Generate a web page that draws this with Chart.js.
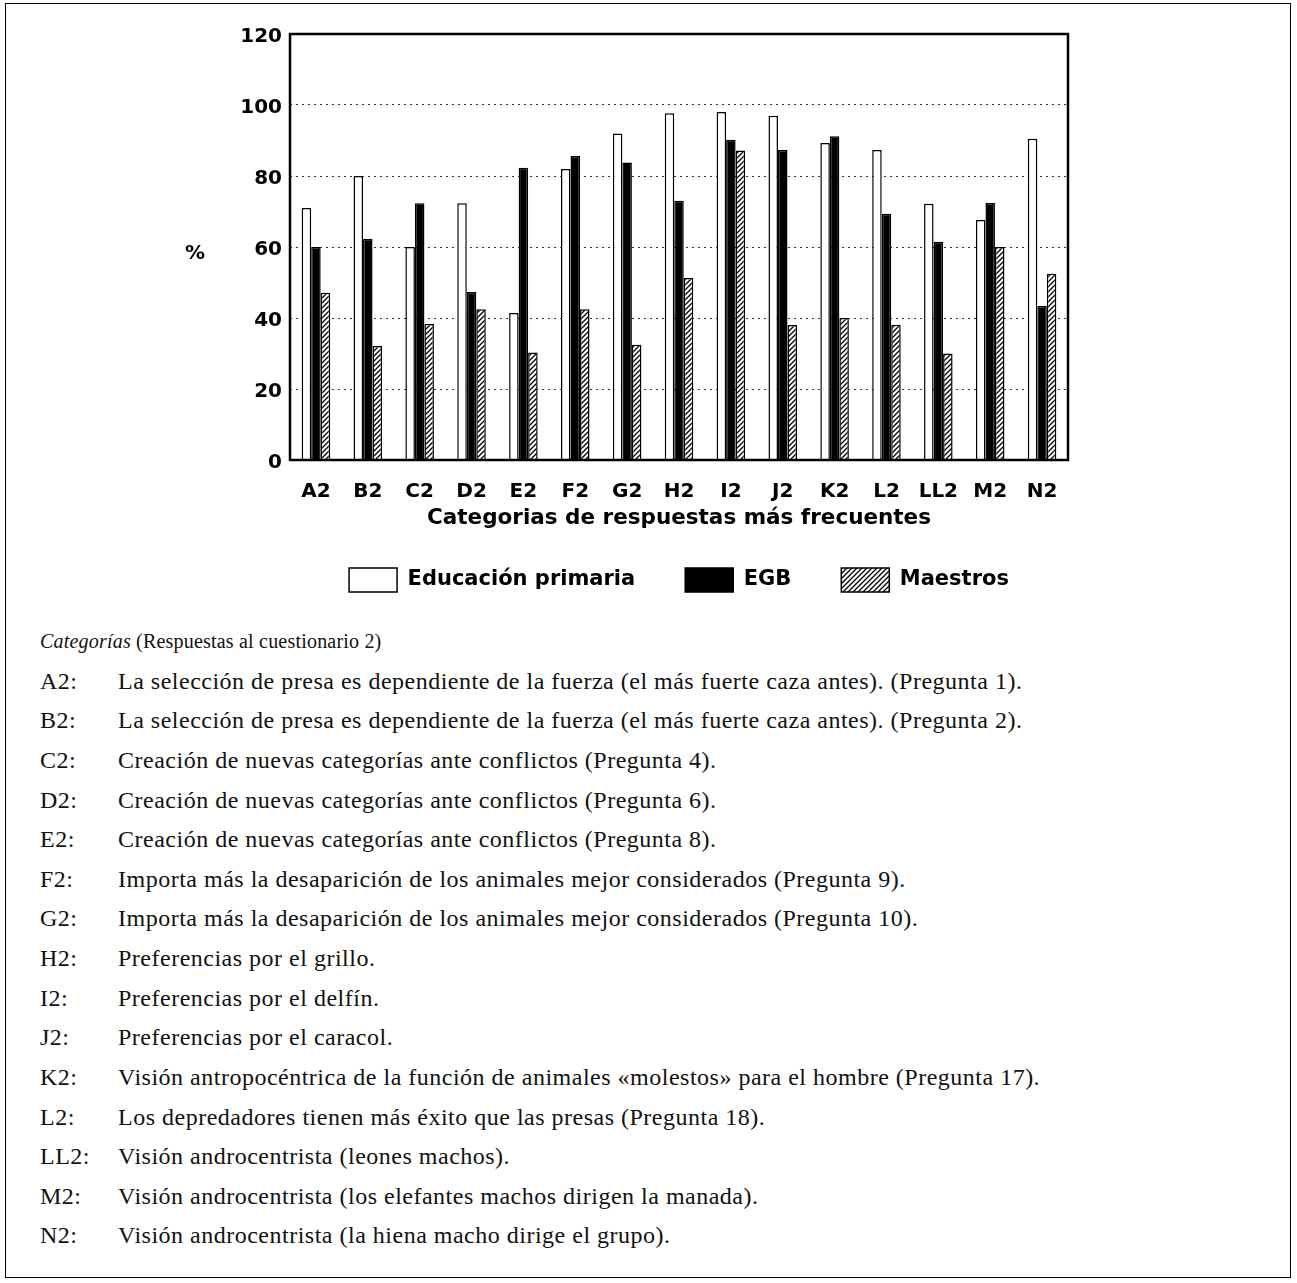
<!DOCTYPE html>
<html><head><meta charset="utf-8">
<script src="https://cdn.jsdelivr.net/npm/chart.js@4.4.0/dist/chart.umd.min.js"></script>
<style>
html,body{margin:0;padding:0;background:#fff;width:1297px;height:1283px;overflow:hidden;}
#frame{position:absolute;left:5px;top:3px;width:1286px;height:1275px;border:1.5px solid #000;box-sizing:border-box;}
#wrap{position:absolute;left:0;top:0;width:1297px;height:620px;}
#pct{position:absolute;left:185px;top:240px;font:bold 20px "DejaVu Sans";color:#000;}
#notes{position:absolute;left:40px;top:622px;font-family:"Liberation Serif";font-size:24px;line-height:39.64px;color:#111;letter-spacing:0.5px;}
.row{white-space:nowrap;height:39.64px;}
.row.first{font-size:20px;letter-spacing:0.2px;}
.k{display:inline-block;width:78px;}
</style></head>
<body>
<div id="frame"></div>
<div id="wrap"><canvas id="c" width="1297" height="620"></canvas></div>
<div id="pct">%</div>
<div id="notes"></div>
<script>
// ---- data ----
const categories = ['A2','B2','C2','D2','E2','F2','G2','H2','I2','J2','K2','L2','LL2','M2','N2'];
const primaria = [71, 80, 60, 72.3, 41.4, 82, 92, 97.7, 98, 97, 89.3, 87.3, 72.2, 67.6, 90.5];
const egb      = [60, 62.3, 72.3, 47.3, 82.3, 85.6, 83.8, 73, 90.2, 87.3, 91.2, 69.4, 61.5, 72.4, 43.4];
const maestros = [47.1, 32.1, 38.3, 42.5, 30.3, 42.5, 32.5, 51.3, 87.2, 38, 40, 38.1, 30, 60, 52.5];
const seriesNames = ['Educación primaria','EGB','Maestros'];
const yMin = 0, yMax = 120, yStep = 20;
const xTitle = 'Categorias de respuestas más frecuentes';
const yTitle = '%';
const notesTitleItalic = 'Categorías';
const notesTitleRest = ' (Respuestas al cuestionario 2)';
const noteCodes = ['A2:','B2:','C2:','D2:','E2:','F2:','G2:','H2:','I2:','J2:','K2:','L2:','LL2:','M2:','N2:'];
const noteTexts = [
 'La selección de presa es dependiente de la fuerza (el más fuerte caza antes). (Pregunta 1).',
 'La selección de presa es dependiente de la fuerza (el más fuerte caza antes). (Pregunta 2).',
 'Creación de nuevas categorías ante conflictos (Pregunta 4).',
 'Creación de nuevas categorías ante conflictos (Pregunta 6).',
 'Creación de nuevas categorías ante conflictos (Pregunta 8).',
 'Importa más la desaparición de los animales mejor considerados (Pregunta 9).',
 'Importa más la desaparición de los animales mejor considerados (Pregunta 10).',
 'Preferencias por el grillo.',
 'Preferencias por el delfín.',
 'Preferencias por el caracol.',
 'Visión antropocéntrica de la función de animales «molestos» para el hombre (Pregunta 17).',
 'Los depredadores tienen más éxito que las presas (Pregunta 18).',
 'Visión androcentrista (leones machos).',
 'Visión androcentrista (los elefantes machos dirigen la manada).',
 'Visión androcentrista (la hiena macho dirige el grupo).'
];

// ---- notes text ----
document.getElementById('pct').textContent = yTitle;
const notes = document.getElementById('notes');
let h = '<div class="row first"><i>' + notesTitleItalic + '</i>' + notesTitleRest + '</div>';
noteCodes.forEach((c,i)=>{ h += '<div class="row"><span class="k">'+c+'</span>'+noteTexts[i]+'</div>'; });
notes.innerHTML = h;

// ---- hatch pattern ----
function hatch(){
  const s = 5, c = document.createElement('canvas'); c.width = s; c.height = s;
  const x = c.getContext('2d');
  x.fillStyle = '#fff'; x.fillRect(0,0,s,s);
  x.strokeStyle = '#000'; x.lineWidth = 1.3;
  x.beginPath();
  x.moveTo(0,s); x.lineTo(s,0);
  x.moveTo(-1,1); x.lineTo(1,-1);
  x.moveTo(s-1,s+1); x.lineTo(s+1,s-1);
  x.stroke();
  return x.createPattern(c,'repeat');
}

const framePlugin = {
  id:'frame',
  afterDatasetsDraw(chart){
    const {ctx, chartArea:a} = chart;
    ctx.save(); ctx.strokeStyle = '#000'; ctx.lineWidth = 2.5;
    ctx.strokeRect(a.left, a.top, a.right-a.left, a.bottom-a.top);
    ctx.restore();
  }
};

const F = 'DejaVu Sans';
new Chart(document.getElementById('c'), {
  type:'bar',
  data:{
    labels: categories,
    datasets:[
      {label:seriesNames[0], data:primaria, backgroundColor:'#fff', borderColor:'#000', borderWidth:1.5},
      {label:seriesNames[1], data:egb, backgroundColor:'#000', borderColor:'#000', borderWidth:1.5},
      {label:seriesNames[2], data:maestros, backgroundColor:hatch(), borderColor:'#000', borderWidth:1.5}
    ]
  },
  options:{
    responsive:false, animation:false,
    datasets:{bar:{categoryPercentage:0.55, barPercentage:1.0}},
    layout:{padding:{top:34, right:229, bottom:18, left:0}},
    plugins:{
      tooltip:{enabled:false},
      legend:{
        position:'bottom', fullSize:false,
        labels:{color:'#000', font:{family:F, weight:'bold', size:21}, boxWidth:48, boxHeight:24, padding:50}
      }
    },
    scales:{
      x:{
        grid:{display:false}, border:{display:false},
        ticks:{color:'#000', font:{family:F, weight:'bold', size:20}, padding:12, maxRotation:0, autoSkip:false},
        title:{display:true, text:xTitle, color:'#000', font:{family:F, weight:'bold', size:21.5}, padding:{top:10, bottom:-13}},
        afterFit(s){ s.height = 58; }
      },
      y:{
        min:yMin, max:yMax,
        ticks:{stepSize:yStep, color:'#000', font:{family:F, weight:'bold', size:20}, padding:8, labelOffset:3},
        grid:{drawTicks:false, lineWidth:1, color:(c)=> (c.tick && (c.tick.value===yMin || c.tick.value===yMax)) ? 'rgba(0,0,0,0)' : '#333'},
        border:{display:false, dash:[2,4]},
        afterFit(s){ s.width = 290; }
      }
    }
  },
  plugins:[framePlugin]
});
</script>
</body></html>
